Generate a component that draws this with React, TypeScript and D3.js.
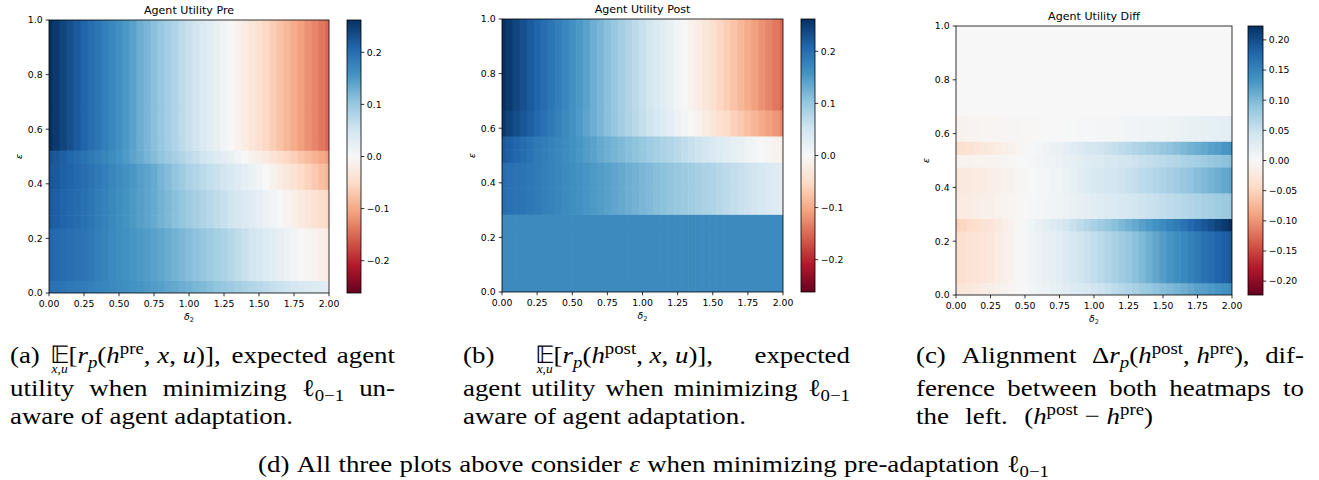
import React, { useEffect, useRef } from "react";
import * as d3 from "d3";

const W = 1319;
const H = 480;

// δ₂ grid: centres of the heatmap columns
const DELTA2 = [
  0, 0.05, 0.1, 0.15, 0.2, 0.25, 0.3, 0.35, 0.4, 0.45,
  0.5, 0.55, 0.6, 0.65, 0.7, 0.75, 0.8, 0.85, 0.9, 0.95,
  1.0, 1.05, 1.1, 1.15, 1.2, 1.25, 1.3, 1.35, 1.4, 1.45,
  1.5, 1.55, 1.6, 1.65, 1.7, 1.75, 1.8, 1.85, 1.9, 1.95, 2.0,
];

// ε band edges, bottom to top (9 bands)
const EPS_EDGES = [0, 0.046, 0.239, 0.285, 0.38, 0.476, 0.523, 0.572, 0.667, 1.0];

// Expected agent utility, pre-adaptation classifier (one array per distinct ε band)
const PRE_TOP = [
  0.262, 0.252, 0.242, 0.231, 0.221, 0.211, 0.201, 0.191, 0.181, 0.171,
  0.161, 0.151, 0.141, 0.130, 0.120, 0.110, 0.100, 0.090, 0.080, 0.070,
  0.060, 0.050, 0.040, 0.030, 0.020, 0.010, -0.001, -0.011, -0.022, -0.032,
  -0.043, -0.054, -0.065, -0.076, -0.087, -0.098, -0.108, -0.119, -0.129, -0.140, -0.150,
];
const PRE_E = [
  0.230, 0.223, 0.216, 0.209, 0.202, 0.195, 0.188, 0.180, 0.173, 0.165,
  0.158, 0.149, 0.140, 0.132, 0.123, 0.114, 0.105, 0.096, 0.088, 0.079,
  0.070, 0.062, 0.053, 0.045, 0.036, 0.028, 0.019, 0.009, 0.000, -0.009,
  -0.018, -0.027, -0.036, -0.046, -0.055, -0.064, -0.073, -0.082, -0.092, -0.101, -0.110,
];
const PRE_D = [
  0.225, 0.220, 0.215, 0.211, 0.206, 0.201, 0.194, 0.187, 0.180, 0.173,
  0.166, 0.159, 0.153, 0.146, 0.140, 0.133, 0.123, 0.114, 0.104, 0.095,
  0.085, 0.078, 0.071, 0.064, 0.057, 0.050, 0.042, 0.034, 0.026, 0.018,
  0.010, 0.000, -0.010, -0.020, -0.030, -0.040, -0.050, -0.060, -0.070, -0.080, -0.090,
];
const PRE_C = [
  0.220, 0.216, 0.211, 0.207, 0.202, 0.198, 0.191, 0.184, 0.177, 0.170,
  0.163, 0.157, 0.151, 0.145, 0.139, 0.133, 0.125, 0.118, 0.110, 0.103,
  0.095, 0.088, 0.081, 0.074, 0.067, 0.060, 0.053, 0.046, 0.039, 0.032,
  0.025, 0.017, 0.009, 0.001, -0.007, -0.015, -0.023, -0.031, -0.039, -0.047, -0.055,
];
const PRE_B = [
  0.208, 0.205, 0.202, 0.199, 0.196, 0.193, 0.187, 0.181, 0.175, 0.169,
  0.163, 0.159, 0.155, 0.151, 0.147, 0.143, 0.137, 0.131, 0.125, 0.119,
  0.113, 0.107, 0.101, 0.095, 0.089, 0.083, 0.075, 0.067, 0.059, 0.051,
  0.043, 0.036, 0.029, 0.022, 0.015, 0.008, 0.002, -0.004, -0.010, -0.016, -0.022,
];
const PRE_A = [
  0.198, 0.195, 0.192, 0.189, 0.186, 0.183, 0.179, 0.176, 0.172, 0.169,
  0.165, 0.162, 0.158, 0.155, 0.151, 0.148, 0.144, 0.139, 0.135, 0.130,
  0.126, 0.121, 0.116, 0.110, 0.105, 0.100, 0.095, 0.089, 0.084, 0.078,
  0.073, 0.068, 0.063, 0.058, 0.053, 0.048, 0.044, 0.040, 0.036, 0.032, 0.028,
];

// Expected agent utility, post-adaptation classifier
const POST_TOP = PRE_TOP;
const POST_D = [
  0.254, 0.244, 0.235, 0.225, 0.216, 0.206, 0.197, 0.187, 0.178, 0.168,
  0.159, 0.149, 0.139, 0.130, 0.120, 0.110, 0.101, 0.091, 0.082, 0.072,
  0.063, 0.054, 0.045, 0.035, 0.026, 0.017, 0.007, -0.002, -0.012, -0.022,
  -0.032, -0.042, -0.051, -0.061, -0.070, -0.080, -0.089, -0.098, -0.107, -0.116, -0.125,
];
const POST_C = [
  0.222, 0.215, 0.208, 0.202, 0.195, 0.188, 0.182, 0.177, 0.171, 0.166,
  0.160, 0.154, 0.147, 0.141, 0.134, 0.128, 0.122, 0.117, 0.111, 0.106,
  0.100, 0.094, 0.089, 0.083, 0.078, 0.072, 0.066, 0.060, 0.054, 0.048,
  0.042, 0.036, 0.030, 0.025, 0.019, 0.013, 0.007, 0.002, -0.004, -0.009, -0.015,
];
const POST_B = [
  0.200, 0.197, 0.194, 0.192, 0.189, 0.186, 0.181, 0.177, 0.172, 0.168,
  0.163, 0.159, 0.155, 0.151, 0.147, 0.143, 0.138, 0.134, 0.129, 0.125,
  0.120, 0.116, 0.112, 0.108, 0.104, 0.100, 0.096, 0.092, 0.088, 0.084,
  0.080, 0.075, 0.070, 0.065, 0.060, 0.055, 0.050, 0.045, 0.040, 0.035, 0.030,
];
const POST_A = [
  0.168, 0.168, 0.168, 0.168, 0.168, 0.168, 0.168, 0.168, 0.168, 0.168,
  0.168, 0.168, 0.168, 0.168, 0.168, 0.168, 0.168, 0.168, 0.168, 0.168,
  0.168, 0.168, 0.168, 0.168, 0.168, 0.168, 0.168, 0.168, 0.168, 0.168,
  0.168, 0.168, 0.168, 0.168, 0.168, 0.168, 0.168, 0.168, 0.168, 0.168, 0.168,
];

// rows in ε order, bottom band first
const PRE_ROWS = [PRE_A, PRE_B, PRE_C, PRE_C, PRE_D, PRE_E, PRE_TOP, PRE_TOP, PRE_TOP];
const POST_ROWS = [POST_A, POST_A, POST_A, POST_B, POST_B, POST_C, POST_C, POST_D, POST_TOP];
// alignment: post minus pre
const DIFF_ROWS = POST_ROWS.map((row, r) => row.map((v, c) => v - PRE_ROWS[r][c]));

const X_TICKS = [0, 0.25, 0.5, 0.75, 1, 1.25, 1.5, 1.75, 2];
const Y_TICKS = [0, 0.2, 0.4, 0.6, 0.8, 1.0];
const CB_TICKS_UTIL = [-0.2, -0.1, 0, 0.1, 0.2];
const CB_TICKS_DIFF = [-0.2, -0.15, -0.1, -0.05, 0, 0.05, 0.1, 0.15, 0.2];

// matplotlib RdBu control colours, low → high
const RDBU = [
  "#67001f", "#b2182b", "#d6604d", "#f4a582", "#fddbc7", "#f7f7f7",
  "#d1e5f0", "#92c5de", "#4393c3", "#2166ac", "#053061",
];

const SANS = "'DejaVu Sans', sans-serif";
const SERIF = "'Liberation Serif', serif";
const TICK_FS = 9.3;
const TITLE_FS = 11.1;
const LW = 0.8;
const TICK_LEN = 3.3;

const cmap = d3
  .scaleLinear<string>()
  .domain(RDBU.map((_, i) => i / 10))
  .range(RDBU)
  .interpolate(d3.interpolateRgb)
  .clamp(true);

const utilVmax = d3.max([...PRE_ROWS, ...POST_ROWS].flat().map(Math.abs)) as number;
const diffVmax = d3.max(DIFF_ROWS.flat().map(Math.abs)) as number;

type Panel = {
  id: string;
  title: string;
  x0: number;
  x1: number;
  y0: number;
  y1: number;
  cb0: number;
  cb1: number;
  rows: number[][];
  vmax: number;
  cbTicks: number[];
  cbFmt: (v: number) => string;
};

const PANELS: Panel[] = [
  { id: "pre", title: "Agent Utility Pre", x0: 49, x1: 329, y0: 20, y1: 293, cb0: 347, cb1: 361,
    rows: PRE_ROWS, vmax: utilVmax, cbTicks: CB_TICKS_UTIL, cbFmt: d3.format(".1f") },
  { id: "post", title: "Agent Utility Post", x0: 502, x1: 783, y0: 19, y1: 292, cb0: 801, cb1: 815,
    rows: POST_ROWS, vmax: utilVmax, cbTicks: CB_TICKS_UTIL, cbFmt: d3.format(".1f") },
  { id: "diff", title: "Agent Utility Diff", x0: 956, x1: 1232, y0: 26, y1: 295, cb0: 1248, cb1: 1263,
    rows: DIFF_ROWS, vmax: diffVmax, cbTicks: CB_TICKS_DIFF, cbFmt: d3.format(".2f") },
];

function drawPanel(svg: d3.Selection<SVGSVGElement, unknown, null, undefined>, p: Panel) {
  const x = d3.scaleLinear().domain([0, 2]).range([p.x0, p.x1]);
  const y = d3.scaleLinear().domain([0, 1]).range([p.y1, p.y0]);
  const color = (v: number) => cmap((v + p.vmax) / (2 * p.vmax));
  const half = (DELTA2[1] - DELTA2[0]) / 2;

  const defs = svg.append("defs");
  defs.append("clipPath").attr("id", `clip-${p.id}`)
    .append("rect").attr("x", p.x0).attr("y", p.y0)
    .attr("width", p.x1 - p.x0).attr("height", p.y1 - p.y0);

  const cells: { r: number; c: number; v: number }[] = [];
  p.rows.forEach((row, r) => row.forEach((v, c) => cells.push({ r, c, v })));

  const g = svg.append("g").attr("clip-path", `url(#clip-${p.id})`);
  g.selectAll("rect")
    .data(cells)
    .join("rect")
    .attr("x", (d) => x(Math.max(0, DELTA2[d.c] - half)))
    .attr("width", (d) => x(Math.min(2, DELTA2[d.c] + half)) - x(Math.max(0, DELTA2[d.c] - half)) + 0.6)
    .attr("y", (d) => y(EPS_EDGES[d.r + 1]))
    .attr("height", (d) => y(EPS_EDGES[d.r]) - y(EPS_EDGES[d.r + 1]) + 0.6)
    .attr("fill", (d) => color(d.v));

  // frame
  svg.append("rect").attr("x", p.x0).attr("y", p.y0)
    .attr("width", p.x1 - p.x0).attr("height", p.y1 - p.y0)
    .attr("fill", "none").attr("stroke", "#000").attr("stroke-width", LW);

  const txt = svg.append("g").style("font-family", SANS).attr("fill", "#000");

  // x axis
  X_TICKS.forEach((t) => {
    svg.append("line").attr("x1", x(t)).attr("x2", x(t))
      .attr("y1", p.y1).attr("y2", p.y1 + TICK_LEN)
      .attr("stroke", "#000").attr("stroke-width", LW);
    txt.append("text").attr("x", x(t)).attr("y", p.y1 + 13.6)
      .attr("text-anchor", "middle").attr("font-size", TICK_FS)
      .text(d3.format(".2f")(t));
  });
  // y axis
  Y_TICKS.forEach((t) => {
    svg.append("line").attr("x1", p.x0 - TICK_LEN).attr("x2", p.x0)
      .attr("y1", y(t)).attr("y2", y(t))
      .attr("stroke", "#000").attr("stroke-width", LW);
    txt.append("text").attr("x", p.x0 - 6.4).attr("y", y(t)).attr("dy", "0.36em")
      .attr("text-anchor", "end").attr("font-size", TICK_FS)
      .text(d3.format(".1f")(t));
  });

  // axis labels
  const xl = txt.append("text").attr("x", (p.x0 + p.x1) / 2).attr("y", p.y1 + 27)
    .attr("text-anchor", "middle").attr("font-size", TICK_FS);
  xl.append("tspan").attr("font-style", "italic").text("δ");
  xl.append("tspan").attr("font-size", TICK_FS * 0.7).attr("dy", 2).text("2");

  txt.append("text")
    .attr("transform", `translate(${p.x0 - 27},${(p.y0 + p.y1) / 2}) rotate(-90)`)
    .attr("text-anchor", "middle").attr("font-size", TICK_FS).attr("font-style", "italic")
    .text("ε");

  // title
  txt.append("text").attr("x", (p.x0 + p.x1) / 2).attr("y", p.y0 - 5.6)
    .attr("text-anchor", "middle").attr("font-size", TITLE_FS).text(p.title);

  // colorbar
  const gid = `grad-${p.id}`;
  const grad = defs.append("linearGradient").attr("id", gid)
    .attr("x1", 0).attr("y1", 1).attr("x2", 0).attr("y2", 0);
  RDBU.forEach((c, i) => grad.append("stop").attr("offset", i / 10).attr("stop-color", c));
  svg.append("rect").attr("x", p.cb0).attr("y", p.y0)
    .attr("width", p.cb1 - p.cb0).attr("height", p.y1 - p.y0)
    .attr("fill", `url(#${gid})`).attr("stroke", "#000").attr("stroke-width", LW);

  const cy = d3.scaleLinear().domain([-p.vmax, p.vmax]).range([p.y1, p.y0]);
  p.cbTicks.forEach((t) => {
    svg.append("line").attr("x1", p.cb1).attr("x2", p.cb1 + TICK_LEN)
      .attr("y1", cy(t)).attr("y2", cy(t))
      .attr("stroke", "#000").attr("stroke-width", LW);
    txt.append("text").attr("x", p.cb1 + 5.8).attr("y", cy(t)).attr("dy", "0.36em")
      .attr("font-size", TICK_FS).text(p.cbFmt(t));
  });
}

// ---------- captions ----------
type Run = { t: string; it?: boolean; sup?: boolean; sub?: boolean };
type Item = { runs: Run[]; under?: string };
type Line = { x: number; w: number; y: number; items: Item[] };

const CAP_FS = 24;
const K = 1.12;
const words = (s: string): Item[] => s.split(" ").map((t) => ({ runs: [{ t }] }));
const ELL: Item = { runs: [{ t: "ℓ" }, { t: "0−1", sub: true }] };
// expectation over (x, u) with limits set under the operator
const expectation = (h: string): Item => ({
  under: "x,u",
  runs: [
    { t: "𝔼" }, { t: "[" }, { t: "r", it: true }, { t: "p", it: true, sub: true }, { t: "(" },
    { t: "h", it: true }, { t: h, sup: true }, { t: ", " }, { t: "x", it: true },
    { t: ", " }, { t: "u", it: true }, { t: ")]," },
  ],
});

const L1 = 363;
const L2 = 396;
const L3 = 424;

const CAPTION_LINES: Line[] = [
  { x: 10, w: 385, y: L1, items: [...words("(a)"), expectation("pre"), ...words("expected agent")] },
  { x: 10, w: 385, y: L2, items: [...words("utility when minimizing"), ELL, ...words("un-")] },
  { x: 10, w: 283, y: L3, items: words("aware of agent adaptation.") },

  { x: 463, w: 387, y: L1, items: [...words("(b)"), expectation("post"), ...words("expected")] },
  { x: 463, w: 387, y: L2, items: [...words("agent utility when minimizing"), ELL] },
  { x: 463, w: 283, y: L3, items: words("aware of agent adaptation.") },

  {
    x: 916, w: 388, y: L1,
    items: [
      ...words("(c) Alignment"),
      {
        runs: [
          { t: "Δ" }, { t: "r", it: true }, { t: "p", it: true, sub: true }, { t: "(" },
          { t: "h", it: true }, { t: "post", sup: true }, { t: ", " },
          { t: "h", it: true }, { t: "pre", sup: true }, { t: ")," },
        ],
      },
      ...words("dif-"),
    ],
  },
  { x: 916, w: 388, y: L2, items: words("ference between both heatmaps to") },
  {
    x: 916, w: 237, y: L3,
    items: [
      ...words("the left."),
      {
        runs: [
          { t: "(" }, { t: "h", it: true }, { t: "post", sup: true }, { t: " − " },
          { t: "h", it: true }, { t: "pre", sup: true }, { t: ")" },
        ],
      },
    ],
  },
  {
    x: 258, w: 791, y: 472,
    items: [
      ...words("(d) All three plots above consider"),
      { runs: [{ t: "ε", it: true }] },
      ...words("when minimizing pre-adaptation"),
      ELL,
    ],
  },
];

function drawLine(svg: d3.Selection<SVGSVGElement, unknown, null, undefined>, line: Line) {
  const g = svg.append("g").style("font-family", SERIF).attr("font-size", CAP_FS).attr("fill", "#000");
  const placed = line.items.map((item) => {
    const text = g.append("text").attr("x", 0).attr("y", line.y).style("white-space", "pre");
    let shift = 0;
    let firstW = 0;
    item.runs.forEach((run, k) => {
      const target = run.sup ? -0.36 * CAP_FS : run.sub ? 0.2 * CAP_FS : 0;
      const ts = text.append("tspan").attr("dy", target - shift).text(run.t);
      shift = target;
      if (run.sup || run.sub) ts.attr("font-size", CAP_FS * 0.7);
      if (run.it) ts.attr("font-style", "italic");
      if (k === 0) firstW = (ts.node() as SVGTextContentElement).getComputedTextLength();
    });
    const w = (text.node() as SVGTextElement).getComputedTextLength() * K;
    if (item.under) {
      // limits centred under the leading operator, same text element
      const ts = text.append("tspan")
        .attr("y", line.y + 10)
        .attr("font-size", 12)
        .attr("font-style", "italic")
        .text(item.under);
      const uw = (ts.node() as SVGTextContentElement).getComputedTextLength();
      ts.attr("x", firstW / 2 - uw / 2);
    }
    return { item, text, w };
  });
  const total = d3.sum(placed, (d) => d.w);
  const gap = placed.length > 1 ? (line.w - total) / (placed.length - 1) : 0;
  let x = line.x;
  placed.forEach((d, i) => {
    if (i > 0) x += gap;
    d.text.attr("transform", `translate(${x},0) scale(${K},1)`);
    x += d.w;
  });
}

export default function App() {
  const ref = useRef<SVGSVGElement>(null);
  useEffect(() => {
    if (!ref.current) return;
    const svg = d3.select(ref.current);
    svg.selectAll("*").remove();
    PANELS.forEach((p) => drawPanel(svg, p));
    CAPTION_LINES.forEach((l) => drawLine(svg, l));
  }, []);
  return (
    <svg
      ref={ref}
      width={W}
      height={H}
      style={{ position: "absolute", left: 0, top: 0, background: "#fff" }}
    />
  );
}
